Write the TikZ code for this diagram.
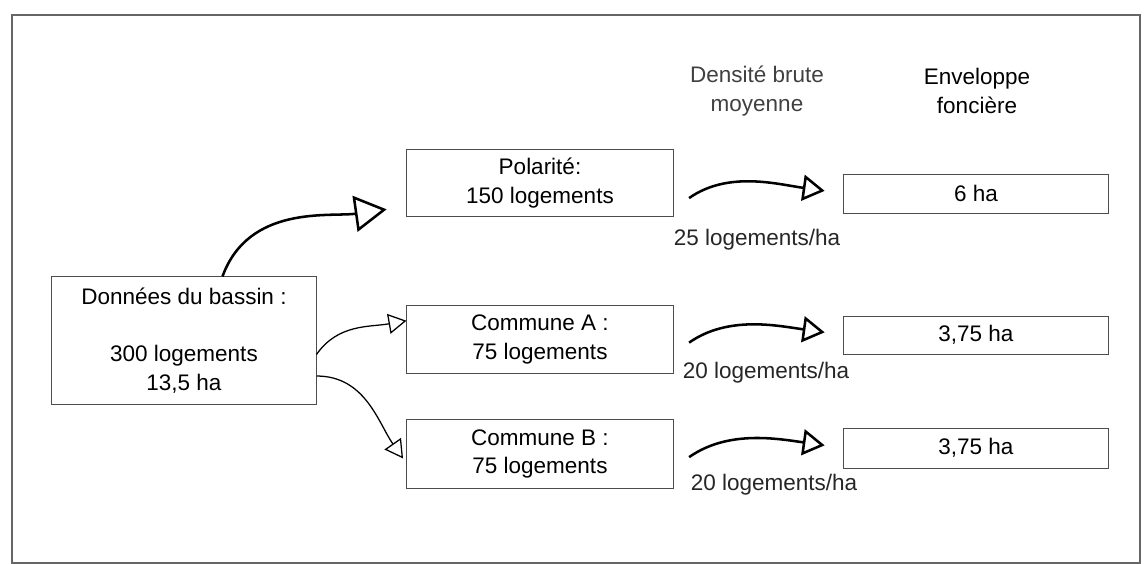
\documentclass[tikz,border=0pt]{standalone}
\usepackage{fontspec}
\setmainfont{Liberation Sans}
\usetikzlibrary{arrows.meta}
\tikzstyle{box}=[rectangle, draw=black!70, line width=0.7pt, inner sep=0pt, anchor=center, align=center, font=\fontsize{16}{20.5}\selectfont]
\tikzstyle{annot}=[align=center, text=black!85, font=\fontsize{16}{20}\selectfont]
\tikzstyle{bigarrow}=[line width=1.8pt, -{Triangle[open, length=0.8cm, width=0.9cm]}]
\tikzstyle{smallarrow}=[line width=0.9pt, -{Triangle[open, length=0.45cm, width=0.5cm]}]
\tikzstyle{densarrow}=[line width=1.8pt, -{Triangle[open, length=0.55cm, width=0.65cm]}, shorten <=0.475cm, shorten >=0.475cm]

\begin{document}
\begin{tikzpicture}[x=0.025cm, y=-0.025cm]
	\useasboundingbox (0,0) rectangle (1147,564);
	\draw[black!60, line width=0.8pt] (12,15) rectangle (1140,563);

	% boxes
	\node[box, minimum width=6.6cm, minimum height=3.175cm](bassin) at (184,340.5){Données du bassin :\\[20pt]300 logements\\13,5 ha};
	\node[box, minimum width=6.65cm, minimum height=1.65cm](polarite) at (540,183){Polarité:\\150 logements};
	\node[box, minimum width=6.65cm, minimum height=1.675cm](communeA) at (540,339.5){Commune A :\\75 logements};
	\node[box, minimum width=6.65cm, minimum height=1.7cm](communeB) at (540,454){Commune B :\\75 logements};
	\node[box, minimum width=6.6cm, minimum height=0.975cm](envPol) at (976,193.5){6 ha};
	\node[box, minimum width=6.6cm, minimum height=0.95cm](envA) at (976,335){3,75 ha};
	\node[box, minimum width=6.6cm, minimum height=1cm](envB) at (976,448){3,75 ha};

	% headers and densities
	\node[annot, text=black!75](densite) at (757,91){Densité brute\\moyenne};
	\node[annot, text=black](enveloppe) at (977,91){Enveloppe\\foncière};
	\node[annot](tauxPol) at (757,240){25 logements/ha};
	\node[annot](tauxA) at (766,373){20 logements/ha};
	\node[annot](tauxB) at (774,485){20 logements/ha};

	\draw[bigarrow, shorten >=0.5cm] (bassin.59) to[out=70, in=188] (polarite.190);
	\draw[smallarrow] (bassin.-6) to[out=55, in=190] (communeA.172);
	\draw[smallarrow, shorten >=0.15cm] (bassin.-15) to[out=0, in=125] (communeB.184);

	\draw[densarrow] (polarite.-11) to[out=35, in=172] (envPol.west);
	\draw[densarrow] (communeA.-6) to[out=35, in=172] (envA.west);
	\draw[densarrow] (communeB.-6) to[out=35, in=172] (envB.west);
\end{tikzpicture}
\end{document}
